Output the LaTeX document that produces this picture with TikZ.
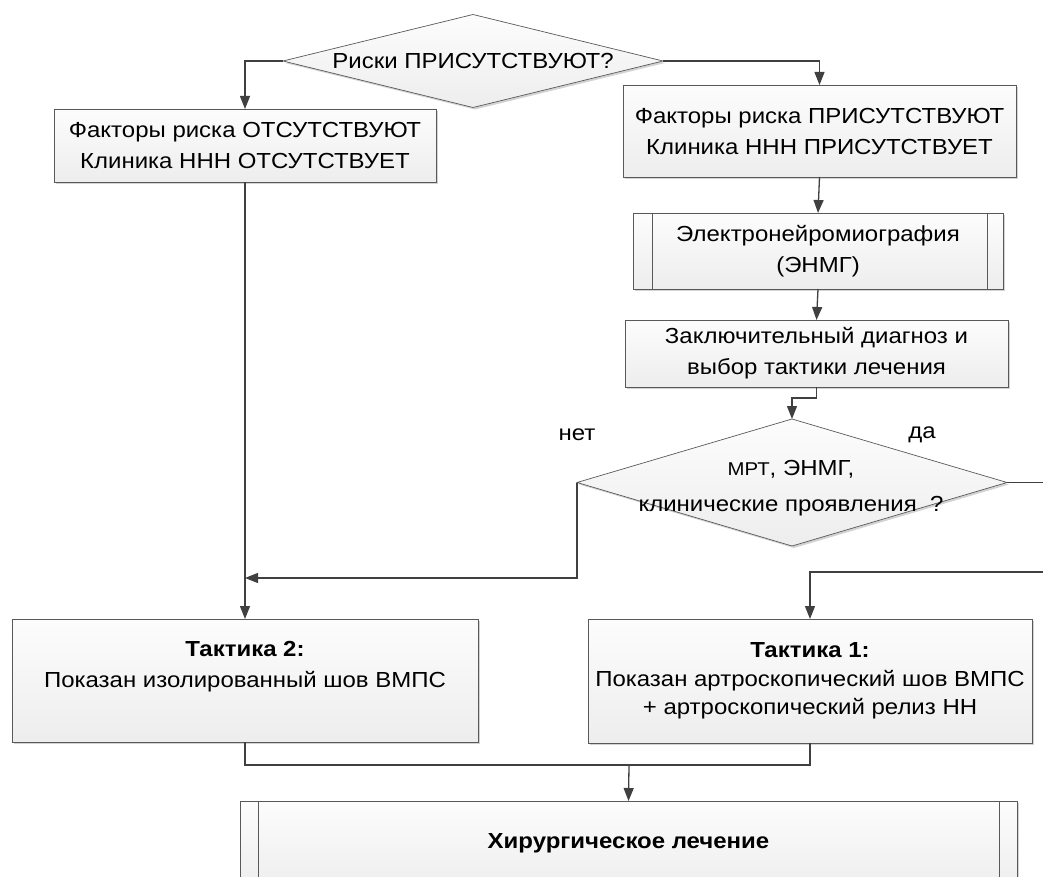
\documentclass[tikz,border=0pt]{standalone}
\usepackage{fontspec}
\setmainfont{Liberation Sans}[FakeStretch=1.1]
\usetikzlibrary{shapes.geometric,arrows.meta,shadows,calc}
\definecolor{ln}{HTML}{404040}
\definecolor{bx}{HTML}{595959}
\begin{document}
\begin{tikzpicture}[x=1pt,y=-1pt,
  font=\fontsize{21.8}{31}\selectfont,
  shade/.style={top color=gray!2, bottom color=gray!14,
    drop shadow={shadow xshift=2pt, shadow yshift=-2pt, fill=gray, opacity=0.35}},
  box/.style={shade, draw=bx, line width=0.8pt, inner sep=0pt, outer sep=0pt, align=center},
  dia/.style={shade, diamond, draw=bx, line width=0.7pt, inner sep=0pt, outer sep=0pt},
  txt/.style={align=center, inner sep=0pt},
  conn/.style={draw=ln, line width=1.3pt},
  arr/.style={conn, -{Triangle[length=13pt,width=10pt]}}]
\useasboundingbox (0,0) rectangle (1043,877);
\clip (0,0) rectangle (1043,877);

% top decision
\node[dia, minimum width=380pt, minimum height=93pt] (d1) at (473,61) {};
\node[txt] (d1t) at (d1.center) {Риски ПРИСУТСТВУЮТ?};

% boxes
\node[box, minimum width=382pt, minimum height=73pt] (b1) at (245,145.5)
  {Факторы риска ОТСУТСТВУЮТ\\Клиника ННН ОТСУТСТВУЕТ};
\node[box, minimum width=393pt, minimum height=92pt] (b2) at (819.5,131)
  {Факторы риска ПРИСУТСТВУЮТ\\Клиника ННН ПРИСУТСТВУЕТ};
\node[box, minimum width=370pt, minimum height=76pt] (enmg) at (818,251)
  {Электронейромиография\\(ЭНМГ)};
\draw[draw=bx, line width=0.8pt] ([xshift=19pt]enmg.north west) -- ([xshift=19pt]enmg.south west)
  ([xshift=-16pt]enmg.north east) -- ([xshift=-16pt]enmg.south east);
\node[box, minimum width=383pt, minimum height=67pt] (zak) at (816.5,353.5)
  {Заключительный диагноз и\\выбор тактики лечения};

% second decision
\node[dia, minimum width=430pt, minimum height=127pt] (d2) at (792,482.5) {};
\node[txt] (d2t) at (791,488)
  {{\fontsize{18.5}{20}\selectfont МРТ}, ЭНМГ,\\[5pt]клинические проявления\ \ ?};
\node[txt] (no) at (577,435) {нет};
\node[txt] (yes) at (922,435) {да};

% tactics
\node[box, minimum width=466pt, minimum height=123pt] (t2) at (245,680.5) {};
\node[txt, anchor=north] (t2t) at ([yshift=-22pt]t2.north)
  {\textbf{Тактика 2:}\\Показан изолированный шов ВМПС};
\node[box, minimum width=444pt, minimum height=124pt] (t1) at (810,681) {};
\node[txt, anchor=north] (t1t) at ([yshift=-23pt]t1.north)
  {\textbf{Тактика 1:}\\[-2pt]Показан артроскопический шов ВМПС\\[-3pt]+ артроскопический релиз НН};

% final
\node[box, minimum width=777pt, minimum height=90pt] (fin) at (628.5,846) {};
\draw[draw=bx, line width=0.8pt] ([xshift=18pt]fin.north west) -- ([xshift=18pt]fin.south west)
  ([xshift=-18pt]fin.north east) -- ([xshift=-18pt]fin.south east);
\node[txt] (fint) at (628.5,843) {\textbf{Хирургическое лечение}};

% helper coordinates
\coordinate (njoin) at (245,578);
\coordinate (redge1) at (1043,482.5);
\coordinate (redge2) at (1043,572);
\coordinate (mid) at (629,765);

% connectors
\draw[arr] (d1.west) -| (b1.north);
\draw[arr] (d1.east) -| (b2.north);
\draw[arr] (b2.south) -- (enmg.north);
\draw[arr] (enmg.south) -- (zak.north);
\draw[arr] (zak.south) -- ++(0,11) -| (d2.north);
\draw[arr] (b1.south) -- (t2.north);
\draw[arr] (d2.west) |- (njoin);
\draw[conn] (d2.east) -- (redge1);
\draw[arr] (redge2) -| (t1.north);
\draw[conn] (t2.south) |- (mid) -| (t1.south);
\draw[arr] (mid) -- (fin.north);
\end{tikzpicture}
\end{document}
